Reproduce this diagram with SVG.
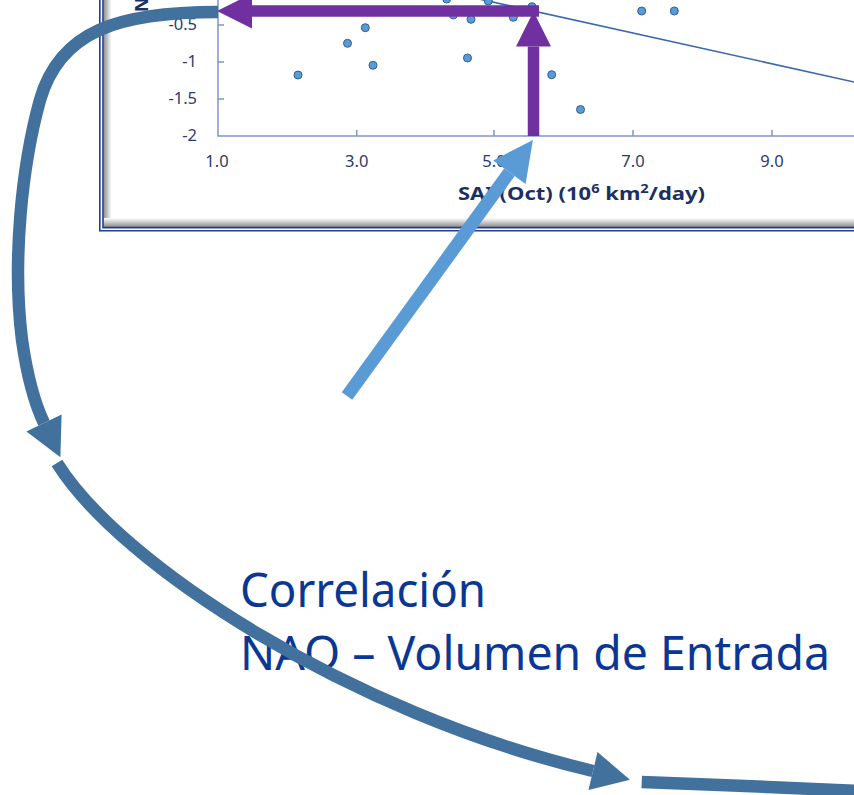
<svg xmlns="http://www.w3.org/2000/svg" width="854" height="795" viewBox="0 0 854 795">
  <style>
    .frame{fill:none;stroke:#1c3f8e;stroke-width:1.6}
    .axis{stroke:#7f97c6;stroke-width:1.5;fill:none}
    .tick{font-family:"Noto Sans","Open Sans",sans-serif;font-size:16.5px;fill:#2a3b70}
    .title{font-family:"Noto Sans","Open Sans",sans-serif;font-size:18px;font-weight:bold;fill:#1c2f63}
    .dot{fill:#5b9bd5;stroke:#2f5f95;stroke-width:1}
    .trend{stroke:#3a68b0;stroke-width:1.6;fill:none}
    .purple{stroke:#7030a0;stroke-width:11.5;fill:none}
    .light{stroke:#5b9bd5;stroke-width:13;fill:none}
    .dark{stroke:#41719c;stroke-width:12.5;fill:none}
    .big{font-family:"Noto Sans","Open Sans",sans-serif;font-size:46.5px;fill:#0b3794}
  </style>
  <defs>
    <linearGradient id="shL" x1="0" y1="0" x2="1" y2="0">
      <stop offset="0" stop-color="#8e8e8e"/>
      <stop offset="1" stop-color="#ffffff"/>
    </linearGradient>
    <linearGradient id="shB" x1="0" y1="1" x2="0" y2="0">
      <stop offset="0" stop-color="#8e8e8e"/>
      <stop offset="1" stop-color="#ffffff"/>
    </linearGradient>
    <marker id="hPurple" markerUnits="userSpaceOnUse" orient="auto" refX="0" refY="0" markerWidth="40" markerHeight="40" viewBox="0 -20 40 40" overflow="visible">
      <path d="M0,-17.5 L35,0 L0,17.5 Z" fill="#7030a0"/>
    </marker>
    <marker id="hLight" markerUnits="userSpaceOnUse" orient="auto" refX="0" refY="0" markerWidth="44" markerHeight="44" viewBox="0 -22 44 44" overflow="visible">
      <path d="M0,-20 L40,0 L0,20 Z" fill="#5b9bd5"/>
    </marker>
    <marker id="hDark" markerUnits="userSpaceOnUse" orient="auto" refX="0" refY="0" markerWidth="42" markerHeight="42" viewBox="0 -21 42 42" overflow="visible">
      <path d="M0,-19.5 L38,0 L0,19.5 Z" fill="#41719c"/>
    </marker>
  </defs>

  <g id="chart">
    <rect x="0" y="0" width="854" height="232" fill="#ffffff"/>
    <rect x="103.5" y="0" width="8" height="227" fill="url(#shL)"/>
    <rect x="103.5" y="218" width="760" height="9" fill="url(#shB)"/>
    <path class="frame" d="M99.8,-5 V230.8 H860"/>
    <path class="frame" d="M103,-5 V227.6 H860"/>

    <path class="axis" d="M218,0 V136 H856"/>
    <path class="axis" d="M218,25 h6 M218,62 h6 M218,99 h6 M356.7,136 v-6 M494,136 v-6 M633,136 v-6 M772,136 v-6"/>

    <g class="tick" text-anchor="end">
      <text x="197" y="29.5">-0.5</text>
      <text x="197" y="66.5">-1</text>
      <text x="197" y="103.5">-1.5</text>
      <text x="197" y="140.5">-2</text>
    </g>
    <g class="tick" text-anchor="middle">
      <text x="217" y="166.5">1.0</text>
      <text x="356.7" y="166.5">3.0</text>
      <text x="494" y="166.5">5.0</text>
      <text x="633" y="166.5">7.0</text>
      <text x="772" y="166.5">9.0</text>
    </g>
    <text class="title" x="148" y="12" transform="rotate(-90 148 12)">NAO</text>
    <text class="title" x="458" y="200" textLength="247" lengthAdjust="spacingAndGlyphs">SAI (Oct)  (10<tspan font-size="12" dy="-7">6</tspan><tspan dy="7"> km</tspan><tspan font-size="12" dy="-7">2</tspan><tspan dy="7">/day)</tspan></text>

    <path class="trend" d="M470,-3 L856,82.4"/>

    <g id="dots">
      <circle class="dot" cx="298" cy="75" r="4"/>
      <circle class="dot" cx="347.5" cy="43.3" r="4"/>
      <circle class="dot" cx="365.3" cy="27.7" r="4"/>
      <circle class="dot" cx="373" cy="65.3" r="4"/>
      <circle class="dot" cx="446.7" cy="-1" r="4"/>
      <circle class="dot" cx="453.3" cy="15" r="4"/>
      <circle class="dot" cx="471" cy="19.3" r="4"/>
      <circle class="dot" cx="467.5" cy="58" r="4"/>
      <circle class="dot" cx="488.3" cy="1" r="4"/>
      <circle class="dot" cx="513.3" cy="17.3" r="4"/>
      <circle class="dot" cx="532" cy="6.7" r="4"/>
      <circle class="dot" cx="551.7" cy="74.7" r="4"/>
      <circle class="dot" cx="580.5" cy="109.5" r="4"/>
      <circle class="dot" cx="641.7" cy="11" r="4"/>
      <circle class="dot" cx="674.3" cy="11" r="4"/>
    </g>
  </g>

  <g id="label">
    <text class="big" x="240" y="606.5" textLength="246" lengthAdjust="spacingAndGlyphs">Correlación</text>
    <text class="big" x="240" y="670" textLength="590" lengthAdjust="spacingAndGlyphs">NAO – Volumen de Entrada</text>
  </g>

  <g id="connectors">
    <path class="purple" d="M539,11 H252" marker-end="url(#hPurple)"/>
    <path class="purple" d="M533.5,136 V46.5" marker-end="url(#hPurple)"/>
    <path class="light" d="M347,396 L509.4,172.3" marker-end="url(#hLight)"/>
    <path class="dark" d="M218,12 C120,12 60,30 40,100 C22,165 12,260 22,340 C27,375 33,400 44,423" marker-end="url(#hDark)"/>
    <path class="dark" d="M57,463 C120.6,565 349.8,713.3 593,771" marker-end="url(#hDark)"/>
    <path class="dark" d="M641.7,782 Q750,786 858,791"/>
  </g>
</svg>
